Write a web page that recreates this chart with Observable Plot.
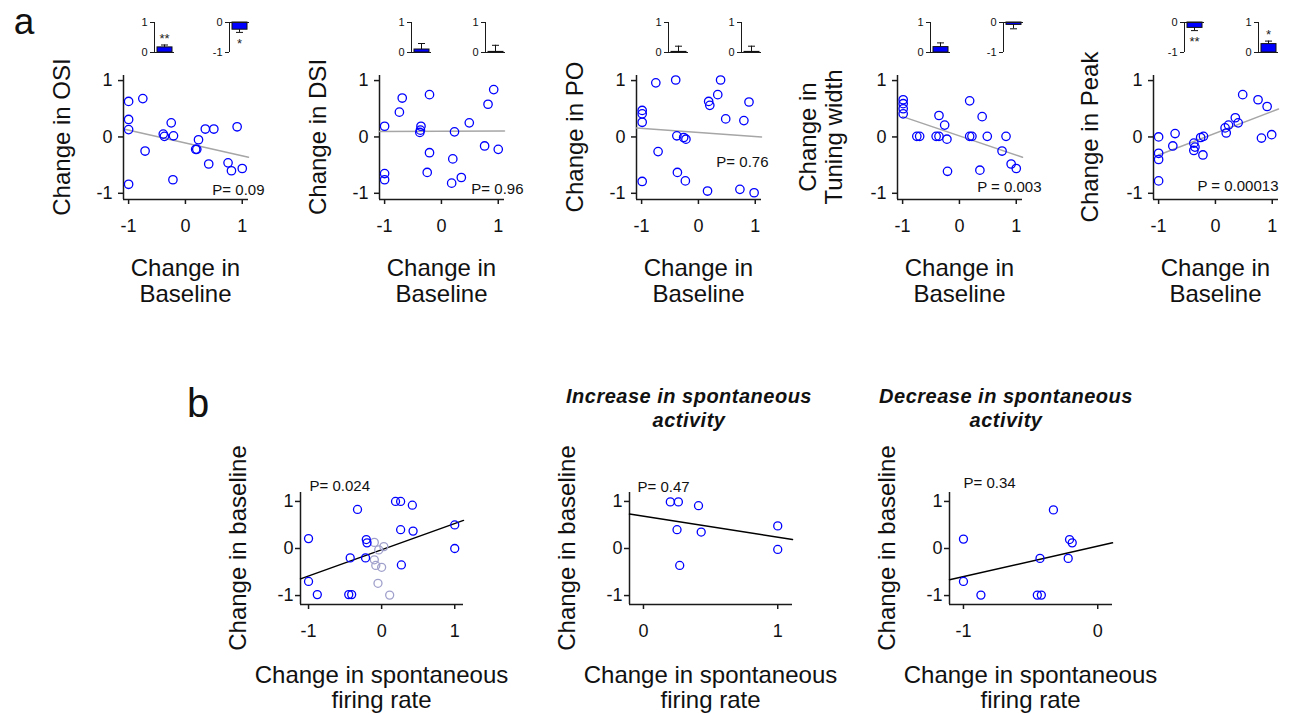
<!DOCTYPE html>
<html><head><meta charset="utf-8">
<script src="https://cdn.jsdelivr.net/npm/d3@7"></script>
<script src="https://cdn.jsdelivr.net/npm/@observablehq/plot@0.6"></script>
<style>
body{margin:0;background:#fff;}
#fig{position:relative;width:1289px;height:714px;overflow:hidden;background:#fff;font-family:"Liberation Sans",Arial,sans-serif;color:#111;}
#fig svg{position:absolute;overflow:visible;}
.lbl{position:absolute;text-align:center;white-space:pre;}
</style></head><body><div id="fig"></div>
<script>
// ---------------- DATA ----------------
// Panel a: change in baseline (x) vs change in tuning metric (y)
const metricNames = ["OSI", "DSI", "PO", "Tuning width", "Peak"];
const yLabels = ["Change in OSI", "Change in DSI", "Change in PO", "Change in\nTuning width", "Change in Peak"];
const xLabelA = "Change in\nBaseline";

const osiX = [-1.0,-1.0,-1.0,-1.0,-0.75,-0.71,-0.25,-0.39,-0.37,-0.21,-0.22,0.18,0.2,0.23,0.35,0.5,0.41,0.75,0.81,1.0,0.91];
const osiY = [0.63,0.31,0.13,-0.84,0.68,-0.25,0.25,0.05,0.01,0.02,-0.76,-0.22,-0.22,-0.05,0.14,0.14,-0.48,-0.46,-0.6,-0.56,0.18];

const dsiX = [-1.0,-1.0,-1.0,-0.74,-0.69,-0.21,-0.36,-0.37,-0.38,-0.21,-0.25,0.23,0.2,0.18,0.35,0.49,0.82,0.92,0.76,1.0];
const dsiY = [0.19,-0.65,-0.76,0.44,0.69,0.75,0.19,0.12,0.08,-0.28,-0.63,0.09,-0.39,-0.82,-0.72,0.25,0.58,0.84,-0.16,-0.22];

const poX = [-0.99,-0.99,-0.99,-0.99,-0.75,-0.71,-0.4,-0.38,-0.26,-0.22,-0.37,-0.23,0.18,0.2,0.34,0.39,0.48,0.8,0.89,0.16,0.73,0.98];
const poY = [0.47,0.41,0.26,-0.79,0.96,-0.26,1.01,0.02,-0.01,-0.04,-0.63,-0.78,0.63,0.56,0.75,1.01,0.32,0.29,0.62,-0.96,-0.93,-0.99];

const twX = [-0.99,-0.99,-0.99,-0.99,-0.75,-0.7,-0.41,-0.36,-0.36,-0.26,-0.22,-0.21,0.18,0.18,0.22,0.4,0.36,0.49,0.82,0.75,0.91,1.0];
const twY = [0.66,0.59,0.5,0.41,0.01,0.01,0.01,0.01,0.38,0.21,-0.04,-0.61,0.64,0.01,0.01,0.36,-0.59,0.01,0.01,-0.25,-0.48,-0.56];

const peakX = [-1.0,-1.0,-1.0,-1.0,-0.75,-0.71,-0.38,-0.38,-0.36,-0.26,-0.21,-0.22,0.17,0.19,0.23,0.35,0.4,0.48,0.75,0.91,0.81,0.99];
const peakY = [0.0,-0.29,-0.4,-0.78,-0.16,0.06,-0.11,-0.24,-0.18,-0.01,0.01,-0.32,0.16,0.07,0.21,0.34,0.25,0.75,0.66,0.54,-0.02,0.04];

// regression fits: intercept, slope, x start, x end
const fitInterceptA = [-0.107, 0.10, 0.079, 0.019, 0.067];
const fitSlopeA     = [-0.227, 0.005, -0.073, -0.341, 0.387];
const fitStartA     = [-1.05, -1.09, -1.09, -1.0, -1.0];
const fitEndA       = [1.11, 1.11, 1.11, 1.11, 1.11];
const pLabelsA = ["P= 0.09", "P= 0.96", "P= 0.76", "P = 0.003", "P = 0.00013"];

// inset bar charts (mean change ± error, significance stars)
const inset1Val  = [0.17, 0.10, 0.02, 0.18, -0.18];
const inset1Err  = [0.25, 0.30, 0.21, 0.32, -0.27];
const inset1Star = ["**", "", "", "", "**"];
const inset2Val  = [-0.24, 0.02, 0.02, -0.08, 0.28];
const inset2Err  = [-0.33, 0.24, 0.21, -0.21, 0.38];
const inset2Star = ["*", "", "", "", "*"];

// Panel b: change in spontaneous firing rate (x) vs change in baseline (y)
const allX  = [-1.0,-1.0,-0.88,-0.33,-0.43,-0.45,-0.41,-0.21,-0.2,-0.22,0.19,0.26,0.42,0.26,0.43,0.27,1.0,1.0];
const allY  = [0.21,-0.7,-0.98,0.83,-0.2,-0.98,-0.98,0.19,0.12,-0.2,1.0,1.0,0.92,0.4,0.37,-0.35,0.5,0.0];
const grayX = [-0.10,0.03,-0.04,-0.10,-0.08,0.0,-0.05,0.11];
const grayY = [0.13,0.04,-0.03,-0.24,-0.36,-0.40,-0.74,-0.99];
const incX  = [0.2,0.26,0.41,0.25,0.43,0.27,1.0,1.0];
const incY  = [0.99,0.99,0.91,0.4,0.35,-0.36,0.48,-0.02];
const decX  = [-1.0,-1.0,-0.87,-0.33,-0.43,-0.45,-0.42,-0.21,-0.19,-0.22];
const decY  = [0.2,-0.7,-0.99,0.82,-0.21,-0.99,-0.99,0.19,0.12,-0.21];
const fitInterceptB = [-0.027, 0.685, 0.049];
const fitSlopeB     = [0.557, -0.446, 0.645];
const pLabelsB = ["P= 0.024", "P= 0.47", "P= 0.34"];
const titlesB = ["", "Increase in spontaneous\nactivity", "Decrease in spontaneous\nactivity"];
const yLabelB = "Change in baseline";
const xLabelB = "Change in spontaneous\nfiring rate";

// ---------------- LAYOUT ----------------
const FONT = '"Liberation Sans", Arial, Helvetica, sans-serif';
const BLUE = "#0000ff", GRAY = "#a0a0cc", AXIS = "#1a1a1a";
const fig = document.getElementById("fig");
const pts = (xs, ys) => xs.map((x, i) => ({x, y: ys[i]}));
const fitPts = (b, m, x0, x1) => [{x: x0, y: b + m * x0}, {x: x1, y: b + m * x1}];

function place(svg, left, top) {
  svg.style.left = left + "px"; svg.style.top = top + "px";
  fig.appendChild(svg);
}

function scatter(c) {
  const mL = 60, mR = 50, mT = 45, mB = 50;
  const marks = [
    Plot.axisX({ticks: c.xTicks, tickSize: 5, tickPadding: c.xPad, tickFormat: d => String(d), fontSize: 18,
      label: null, stroke: AXIS, strokeWidth: 1.5}),
    Plot.axisY({ticks: c.yTicks, tickSize: 5, tickPadding: c.yPad, tickFormat: d => String(d), fontSize: 18,
      label: null, stroke: AXIS, strokeWidth: 1.5}),
    // axis lines along the bottom and left edges of the frame
    Plot.ruleY([c.yDomain[0]], {stroke: AXIS, strokeWidth: 1.5}),
    Plot.ruleX([c.xDomain[0]], {stroke: AXIS, strokeWidth: 1.5}),
    Plot.line(c.fit, {x: "x", y: "y", stroke: c.fitColor, strokeWidth: 1.5}),
    ...c.series.map(s => Plot.dot(s.data, {x: "x", y: "y", r: c.r, stroke: s.color, fill: "none", strokeWidth: 1.3})),
    Plot.text([c.p.text], {text: d => d, frameAnchor: c.p.anchor, textAnchor: c.p.textAnchor, lineAnchor: "middle",
      dx: c.p.dx, dy: c.p.dy, fontSize: 15, fill: "#111"})
  ];
  const svg = Plot.plot({
    width: c.w + mL + mR, height: c.h + mT + mB,
    marginLeft: mL, marginRight: mR, marginTop: mT, marginBottom: mB,
    x: {domain: c.xDomain}, y: {domain: c.yDomain},
    style: {background: "none", overflow: "visible", fontFamily: FONT, color: "#111"},
    marks
  });
  place(svg, c.left - mL, c.top - mT);
}

function inset(axisX, top, value, err, star) {
  const neg = value < 0;
  const dom = neg ? [-1, 0] : [0, 1];
  const mL = 30, mR = 8, mT = 14, mB = 14, w = 20, h = 30;
  const d = [{k: "m", v: value, e: err, s: star}];
  const svg = Plot.plot({
    width: w + mL + mR, height: h + mT + mB,
    marginLeft: mL, marginRight: mR, marginTop: mT, marginBottom: mB,
    x: {type: "band", domain: ["m"], padding: 0, axis: null},
    y: {domain: dom},
    style: {background: "none", overflow: "visible", fontFamily: FONT, color: "#111"},
    marks: [
      Plot.axisY({ticks: dom, tickSize: 4, tickPadding: 3, tickFormat: t => String(t), fontSize: 11,
        label: null, stroke: AXIS, strokeWidth: 1}),
      // vertical axis line at the left edge of the band
      Plot.ruleX(d, {x: "k", y1: dom[0], y2: dom[1], dx: -w / 2, stroke: AXIS, strokeWidth: 1}),
      Plot.barY(d, {x: "k", y: "v", fill: BLUE, stroke: "#111", strokeWidth: 1, insetLeft: 3, insetRight: 2}),
      Plot.ruleY([0], {stroke: AXIS, strokeWidth: 1}),
      Plot.ruleX(d, {x: "k", y1: "v", y2: "e", stroke: "#111", strokeWidth: 1}),
      Plot.tickY(d, {x: "k", y: "e", stroke: "#111", strokeWidth: 1, insetLeft: 7, insetRight: 6}),
      Plot.text(d.filter(r => r.s), {x: "k", y: "e", text: "s", fontSize: 13, fill: "#222", dy: neg ? 11 : -6})
    ]
  });
  place(svg, axisX - mL, top - mT);
}

function label(text, cx, cy, size, lh, opts = {}) {
  const el = document.createElement("div");
  el.className = "lbl";
  const n = text.split("\n").length;
  const W = opts.w || 420, H = n * lh;
  el.style.width = W + "px"; el.style.height = H + "px";
  el.style.left = (cx - W / 2) + "px"; el.style.top = (cy - H / 2) + "px";
  el.style.fontSize = size + "px"; el.style.lineHeight = lh + "px";
  if (opts.rotate) el.style.transform = "rotate(-90deg)";
  if (opts.bold) el.style.fontWeight = "bold";
  if (opts.italic) el.style.fontStyle = "italic";
  if (opts.ls) el.style.letterSpacing = opts.ls + "px";
  el.textContent = text;
  fig.appendChild(el);
}

// ---------------- PANEL a ----------------
const seriesA = [[osiX, osiY], [dsiX, dsiY], [poX, poY], [twX, twY], [peakX, peakY]];
const frameLeftA = [123, 379, 636, 897, 1153];
const inset1AxisX = [154, 411, 668, 930, 1184];
const inset2AxisX = [229, 485, 741, 1003, 1258];
const pPosA = [{dx: 16, dy: -9}, {dx: 19, dy: -10}, {dx: 7, dy: -37}, {dx: 19, dy: -12}, {dx: 0, dy: -13}];
const yLabOffA = [61, 61, 61, 76, 63];

seriesA.forEach(([xs, ys], i) => {
  scatter({
    left: frameLeftA[i], top: 75, w: 125, h: 124,
    xDomain: [-1.09, 1.11], yDomain: [-1.11, 1.09], xTicks: [-1, 0, 1], yTicks: [-1, 0, 1],
    xPad: 15, yPad: 6, r: 4.2,
    fit: fitPts(fitInterceptA[i], fitSlopeA[i], fitStartA[i], fitEndA[i]), fitColor: "#a6a6a6",
    series: [{data: pts(xs, ys), color: BLUE}],
    p: {text: pLabelsA[i], anchor: "bottom-right", textAnchor: "end", dx: pPosA[i].dx, dy: pPosA[i].dy}
  });
  inset(inset1AxisX[i], 22, inset1Val[i], inset1Err[i], inset1Star[i]);
  inset(inset2AxisX[i], 22, inset2Val[i], inset2Err[i], inset2Star[i]);
  label(xLabelA, frameLeftA[i] + 62.5, 281, 24, 26);
  label(yLabels[i], frameLeftA[i] - yLabOffA[i], 137, 24, i === 3 ? 26 : 28, {rotate: true});
});

// ---------------- PANEL b ----------------
const frameLeftB = [300, 629, 949];
const xDomB = [[-1.11, 1.12], [-0.104, 1.11], [-1.104, 0.11]];
const xTicksB = [[-1, 0, 1], [0, 1], [-1, 0]];
const seriesB = [
  [{data: pts(grayX, grayY), color: GRAY}, {data: pts(allX, allY), color: BLUE}],
  [{data: pts(incX, incY), color: BLUE}],
  [{data: pts(decX, decY), color: BLUE}]
];
const pPosB = [{dx: 9, dy: -6}, {dx: 8, dy: -5}, {dx: 14, dy: -9}];
frameLeftB.forEach((fl, i) => {
  scatter({
    left: fl, top: 492, w: 163, h: 112,
    xDomain: xDomB[i], yDomain: [-1.19, 1.19], xTicks: xTicksB[i], yTicks: [-1, 0, 1],
    xPad: 15, yPad: 2, r: 4,
    fit: fitPts(fitInterceptB[i], fitSlopeB[i], xDomB[i][0], xDomB[i][1]), fitColor: "#000",
    series: seriesB[i],
    p: {text: pLabelsB[i], anchor: "top-left", textAnchor: "start", dx: pPosB[i].dx, dy: pPosB[i].dy}
  });
  label(xLabelB, fl + 81.5, 687, 24, 25);
  label(yLabelB, fl - 62.5, 548, 24, 28, {rotate: true});
});
label(titlesB[1], 689, 408, 20, 24, {bold: true, italic: true, ls: 0.5});
label(titlesB[2], 1006, 408, 20, 24, {bold: true, italic: true, ls: 0.5});

// panel letters
label("a", 24, 22, 37, 42, {w: 40});
label("b", 198, 403, 40, 36, {w: 40});
</script></body></html>
